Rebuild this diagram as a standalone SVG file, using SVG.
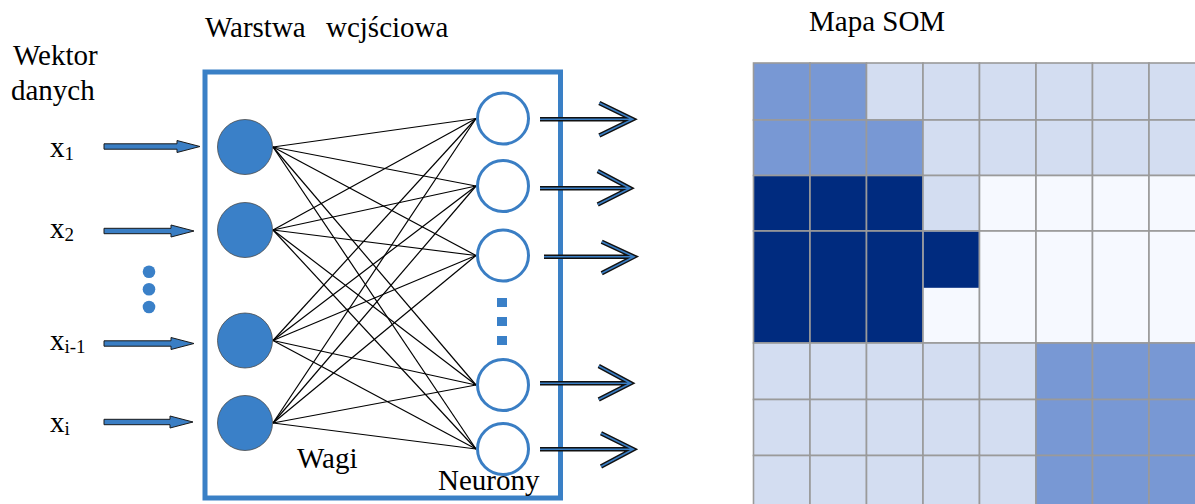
<svg xmlns="http://www.w3.org/2000/svg" width="1195" height="504" viewBox="0 0 1195 504">
  <style>
    text { font-family: 'Liberation Serif', 'Times New Roman', serif; font-size: 29px; fill: #000; }
    .sub { font-size: 19px; }
    .in { fill: #3a80c8; stroke: #4a4a4a; stroke-width: 0.8; }
    .out { fill: #fff; stroke: #3a7ec4; stroke-width: 3; }
    .dot { fill: #3a80c8; }
    .feed { fill: #3a7ec4; stroke: #1a1a1a; stroke-width: 1; }
    .wire { stroke: #000; stroke-width: 1.2; fill: none; }
    .emitA { stroke: #111; stroke-width: 4.5; fill: none; stroke-linejoin: miter; }
    .emitB { stroke: #3a7ec4; stroke-width: 1.6; fill: none; stroke-linejoin: miter; }
    .c { stroke: #9a9a9a; stroke-width: 1.6; }
    .m { fill: #7898d4; }
    .d { fill: #002b7f; }
    .l { fill: #d3ddf1; }
    .v { fill: #f6f9ff; }
  </style>

  <!-- captions -->
  <text x="13" y="65">Wektor</text>
  <text x="11" y="100">danych</text>
  <text x="205" y="37"><tspan>Warstwa</tspan><tspan x="326">wcjściowa</tspan></text>
  <text x="809" y="31">Mapa SOM</text>

  <!-- input component labels -->
  <text x="50" y="156.5">x<tspan class="sub" dy="3">1</tspan></text>
  <text x="50" y="238">x<tspan class="sub" dy="3">2</tspan></text>
  <text x="50" y="350">x<tspan class="sub" dy="3">i-1</tspan></text>
  <text x="50" y="431.5">x<tspan class="sub" dy="3">i</tspan></text>

  <!-- ellipsis between inputs -->
  <g id="input-ellipsis">
    <circle class="dot" cx="149" cy="271.7" r="6.3"/>
    <circle class="dot" cx="149" cy="289.3" r="6.3"/>
    <circle class="dot" cx="149" cy="307" r="6.3"/>
  </g>

  <!-- layer frame -->
  <g id="layer-frame">
    <rect x="205" y="72" width="355.5" height="426" fill="none" stroke="#3a80c6" stroke-width="5"/>
  </g>

  <!-- connectors -->
  <g id="connectors">
    <g id="feeds">
      <polygon class="feed" points="104,143.8 177,143.8 177,140.5 200,146.5 177,152.5 177,149.2 104,149.2"/>
      <polygon class="feed" points="104,228.3 171,228.3 171,225 194,231 171,237 171,233.7 104,233.7"/>
      <polygon class="feed" points="104,340.8 171,340.8 171,337.5 194,343.5 171,349.5 171,346.2 104,346.2"/>
      <polygon class="feed" points="104,419.3 170,419.3 170,416 193,422 170,428 170,424.7 104,424.7"/>
    </g>
    <g id="weights">
      <line class="wire" x1="273" y1="147" x2="476" y2="118.5"/>
      <line class="wire" x1="273" y1="147" x2="476" y2="186"/>
      <line class="wire" x1="273" y1="147" x2="476" y2="255.5"/>
      <line class="wire" x1="273" y1="147" x2="476" y2="385"/>
      <line class="wire" x1="273" y1="147" x2="476" y2="449"/>
      <line class="wire" x1="273" y1="230" x2="476" y2="118.5"/>
      <line class="wire" x1="273" y1="230" x2="476" y2="186"/>
      <line class="wire" x1="273" y1="230" x2="476" y2="255.5"/>
      <line class="wire" x1="273" y1="230" x2="476" y2="385"/>
      <line class="wire" x1="273" y1="230" x2="476" y2="449"/>
      <line class="wire" x1="273" y1="340.5" x2="476" y2="118.5"/>
      <line class="wire" x1="273" y1="340.5" x2="476" y2="186"/>
      <line class="wire" x1="273" y1="340.5" x2="476" y2="255.5"/>
      <line class="wire" x1="273" y1="340.5" x2="476" y2="385"/>
      <line class="wire" x1="273" y1="340.5" x2="476" y2="449"/>
      <line class="wire" x1="273" y1="423" x2="476" y2="118.5"/>
      <line class="wire" x1="273" y1="423" x2="476" y2="186"/>
      <line class="wire" x1="273" y1="423" x2="476" y2="255.5"/>
      <line class="wire" x1="273" y1="423" x2="476" y2="385"/>
      <line class="wire" x1="273" y1="423" x2="476" y2="449"/>
    </g>
    <g id="outputs">
      <path class="emitA" d="M540,119.3 H632 M599.3,103 L632.7,119.3 L599.3,135.5"/>
      <path class="emitB" d="M540,119.3 H632 M599.3,103 L632.7,119.3 L599.3,135.5"/>
      <path class="emitA" d="M540,188.3 H629 M597.7,171 L630,188.3 L597.7,204.5"/>
      <path class="emitB" d="M540,188.3 H629 M597.7,171 L630,188.3 L597.7,204.5"/>
      <path class="emitA" d="M544,256.7 H633 M601.7,241.7 L634,256.7 L601.7,273.3"/>
      <path class="emitB" d="M544,256.7 H633 M601.7,241.7 L634,256.7 L601.7,273.3"/>
      <path class="emitA" d="M540,383.3 H630 M598.7,366 L630.7,383.3 L598.7,399.5"/>
      <path class="emitB" d="M540,383.3 H630 M598.7,366 L630.7,383.3 L598.7,399.5"/>
      <path class="emitA" d="M540,449.3 H632 M601,433.3 L633.3,449.3 L601,466.5"/>
      <path class="emitB" d="M540,449.3 H632 M601,433.3 L633.3,449.3 L601,466.5"/>
    </g>
  </g>

  <!-- input nodes -->
  <g id="in-1"><circle class="in" cx="245" cy="147" r="27.5"/></g>
  <g id="in-2"><circle class="in" cx="245" cy="230" r="27.5"/></g>
  <g id="in-3"><circle class="in" cx="245" cy="340.5" r="27.5"/></g>
  <g id="in-4"><circle class="in" cx="245" cy="423" r="27.5"/></g>

  <!-- output neurons -->
  <g id="out-1"><circle class="out" cx="503" cy="118.5" r="25.5"/></g>
  <g id="out-2"><circle class="out" cx="503" cy="186" r="25.5"/></g>
  <g id="out-3"><circle class="out" cx="503" cy="255.5" r="25.5"/></g>
  <g id="out-4"><circle class="out" cx="503" cy="385" r="25.5"/></g>
  <g id="out-5"><circle class="out" cx="503" cy="449" r="25.5"/></g>

  <g id="neuron-ellipsis">
    <rect class="dot" x="497" y="298" width="10" height="9"/>
    <rect class="dot" x="497" y="317" width="10" height="9"/>
    <rect class="dot" x="497" y="336" width="10" height="9"/>
  </g>

  <text x="297" y="468">Wagi</text>
  <text x="438" y="490">Neurony</text>

  <!-- SOM map grid -->
  <g id="som-map">
    <!-- row 0 -->
    <rect class="c m" x="753.5" y="63" width="56.5" height="57"/>
    <rect class="c m" x="810" y="63" width="56.5" height="57"/>
    <rect class="c l" x="866.5" y="63" width="56.5" height="57"/>
    <rect class="c l" x="923" y="63" width="56.5" height="57"/>
    <rect class="c l" x="979.5" y="63" width="56.5" height="57"/>
    <rect class="c l" x="1036" y="63" width="56.5" height="57"/>
    <rect class="c l" x="1092.5" y="63" width="56.5" height="57"/>
    <rect class="c l" x="1149" y="63" width="56.5" height="57"/>
    <!-- row 1 -->
    <rect class="c m" x="753.5" y="120" width="56.5" height="55.5"/>
    <rect class="c m" x="810" y="120" width="56.5" height="55.5"/>
    <rect class="c m" x="866.5" y="120" width="56.5" height="55.5"/>
    <rect class="c l" x="923" y="120" width="56.5" height="55.5"/>
    <rect class="c l" x="979.5" y="120" width="56.5" height="55.5"/>
    <rect class="c l" x="1036" y="120" width="56.5" height="55.5"/>
    <rect class="c l" x="1092.5" y="120" width="56.5" height="55.5"/>
    <rect class="c l" x="1149" y="120" width="56.5" height="55.5"/>
    <!-- row 2 -->
    <rect class="c d" x="753.5" y="175.5" width="56.5" height="55.5"/>
    <rect class="c d" x="810" y="175.5" width="56.5" height="55.5"/>
    <rect class="c d" x="866.5" y="175.5" width="56.5" height="55.5"/>
    <rect class="c l" x="923" y="175.5" width="56.5" height="55.5"/>
    <rect class="c v" x="979.5" y="175.5" width="56.5" height="55.5"/>
    <rect class="c v" x="1036" y="175.5" width="56.5" height="55.5"/>
    <rect class="c v" x="1092.5" y="175.5" width="56.5" height="55.5"/>
    <rect class="c v" x="1149" y="175.5" width="56.5" height="55.5"/>
    <!-- rows 3-4 -->
    <rect class="c d" x="753.5" y="231" width="56.5" height="112"/>
    <rect class="c d" x="810" y="231" width="56.5" height="112"/>
    <rect class="c d" x="866.5" y="231" width="56.5" height="112"/>
    <rect class="c v" x="923" y="231" width="56.5" height="112"/>
    <rect class="d" x="923.8" y="231.8" width="55" height="56"/>
    <rect class="c v" x="979.5" y="231" width="56.5" height="112"/>
    <rect class="c v" x="1036" y="231" width="56.5" height="112"/>
    <rect class="c v" x="1092.5" y="231" width="56.5" height="112"/>
    <rect class="c v" x="1149" y="231" width="56.5" height="112"/>
    <!-- row 5 -->
    <rect class="c l" x="753.5" y="343" width="56.5" height="56.5"/>
    <rect class="c l" x="810" y="343" width="56.5" height="56.5"/>
    <rect class="c l" x="866.5" y="343" width="56.5" height="56.5"/>
    <rect class="c l" x="923" y="343" width="56.5" height="56.5"/>
    <rect class="c l" x="979.5" y="343" width="56.5" height="56.5"/>
    <rect class="c m" x="1036" y="343" width="56.5" height="56.5"/>
    <rect class="c m" x="1092.5" y="343" width="56.5" height="56.5"/>
    <rect class="c m" x="1149" y="343" width="56.5" height="56.5"/>
    <!-- row 6 -->
    <rect class="c l" x="753.5" y="399.5" width="56.5" height="56"/>
    <rect class="c l" x="810" y="399.5" width="56.5" height="56"/>
    <rect class="c l" x="866.5" y="399.5" width="56.5" height="56"/>
    <rect class="c l" x="923" y="399.5" width="56.5" height="56"/>
    <rect class="c l" x="979.5" y="399.5" width="56.5" height="56"/>
    <rect class="c m" x="1036" y="399.5" width="56.5" height="56"/>
    <rect class="c m" x="1092.5" y="399.5" width="56.5" height="56"/>
    <rect class="c m" x="1149" y="399.5" width="56.5" height="56"/>
    <!-- row 7 -->
    <rect class="c l" x="753.5" y="455.5" width="56.5" height="56.5"/>
    <rect class="c l" x="810" y="455.5" width="56.5" height="56.5"/>
    <rect class="c l" x="866.5" y="455.5" width="56.5" height="56.5"/>
    <rect class="c l" x="923" y="455.5" width="56.5" height="56.5"/>
    <rect class="c l" x="979.5" y="455.5" width="56.5" height="56.5"/>
    <rect class="c m" x="1036" y="455.5" width="56.5" height="56.5"/>
    <rect class="c m" x="1092.5" y="455.5" width="56.5" height="56.5"/>
    <rect class="c m" x="1149" y="455.5" width="56.5" height="56.5"/>
  </g>
</svg>
